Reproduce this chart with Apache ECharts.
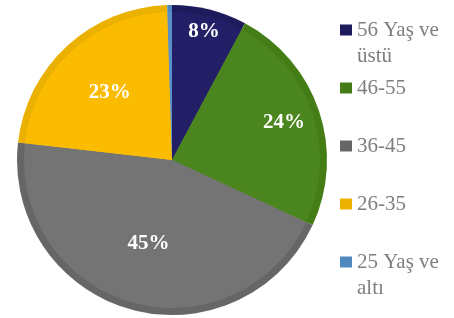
<!DOCTYPE html>
<html>
<head>
<meta charset="utf-8">
<script src="https://cdn.jsdelivr.net/npm/echarts@6/dist/echarts.min.js"></script>
<style>
  html, body { margin: 0; padding: 0; background: #fff; }
  #chart { width: 454px; height: 318px; }
</style>
</head>
<body>
<div id="chart"></div>
<script>
// yaş grupları ve payları (%)
var categories = ['56 Yaş ve üstü', '46-55', '36-45', '26-35', '25 Yaş ve altı'];
var shares = [7.8, 24.1, 44.9, 22.7, 0.5];

// renkler: dolgu ve kenar bandı
var fillColors = ['#221f66', '#4b851e', '#747474', '#fbbc00', '#5b8fc7'];
var rimColors = ['#1e1b5c', '#447d16', '#666666', '#ebb100', '#5088c0'];

// etiketlerin merkeze uzaklığı (px)
var labelDist = [132, 118, 87, 92, 0];

var cx = 172, cy = 160;
var font = '"Liberation Serif", "Times New Roman", serif';

var chart = echarts.init(document.getElementById('chart'));

var outerData = categories.map(function (name, i) {
  return { name: name, value: shares[i], itemStyle: { color: rimColors[i] } };
});
var innerData = categories.map(function (name, i) {
  return {
    name: name,
    value: shares[i],
    itemStyle: { color: fillColors[i] },
    label: { show: labelDist[i] > 0 }
  };
});

// her lejant maddesi ayrı, eşit aralıklı
var lineH = 26;
var legends = categories.map(function (name, i) {
  var multi = name.indexOf(' ve ') >= 0;
  var lines = multi ? 3 : 1;
  var centerY = 30 + i * 58;
  return {
    data: [name],
    orient: 'vertical',
    left: 340,
    top: centerY - lines * lineH / 2,
    padding: 0,
    icon: 'rect',
    itemWidth: 12,
    itemHeight: 11,
    selectedMode: false,
    formatter: function (n) {
      return n.indexOf(' ve ') >= 0 ? '\n' + n.replace(' ve ', ' ve\n') : n;
    },
    textStyle: {
      fontFamily: font,
      fontSize: 21,
      lineHeight: lineH,
      color: '#7f7f7f'
    }
  };
});

chart.setOption({
  animation: false,
  legend: legends,
  series: [
    {
      type: 'pie',
      silent: true,
      center: [cx, cy],
      radius: [0, 155],
      startAngle: 90,
      clockwise: true,
      label: { show: false },
      labelLine: { show: false },
      data: outerData
    },
    {
      type: 'pie',
      silent: true,
      center: [cx, cy],
      radius: [0, 148],
      startAngle: 90,
      clockwise: true,
      label: {
        position: 'inside',
        color: '#fff',
        fontFamily: font,
        fontWeight: 'bold',
        fontSize: 21,
        formatter: function (p) { return Math.round(p.percent) + '%'; }
      },
      labelLine: { show: false },
      labelLayout: function (p) {
        var r = p.labelRect;
        var lx = r.x + r.width / 2, ly = r.y + r.height / 2;
        var d = Math.sqrt((lx - cx) * (lx - cx) + (ly - cy) * (ly - cy)) || 1;
        var k = labelDist[p.dataIndex] / d;
        return { x: cx + (lx - cx) * k, y: cy + (ly - cy) * k };
      },
      data: innerData
    }
  ]
});
</script>
</body>
</html>
